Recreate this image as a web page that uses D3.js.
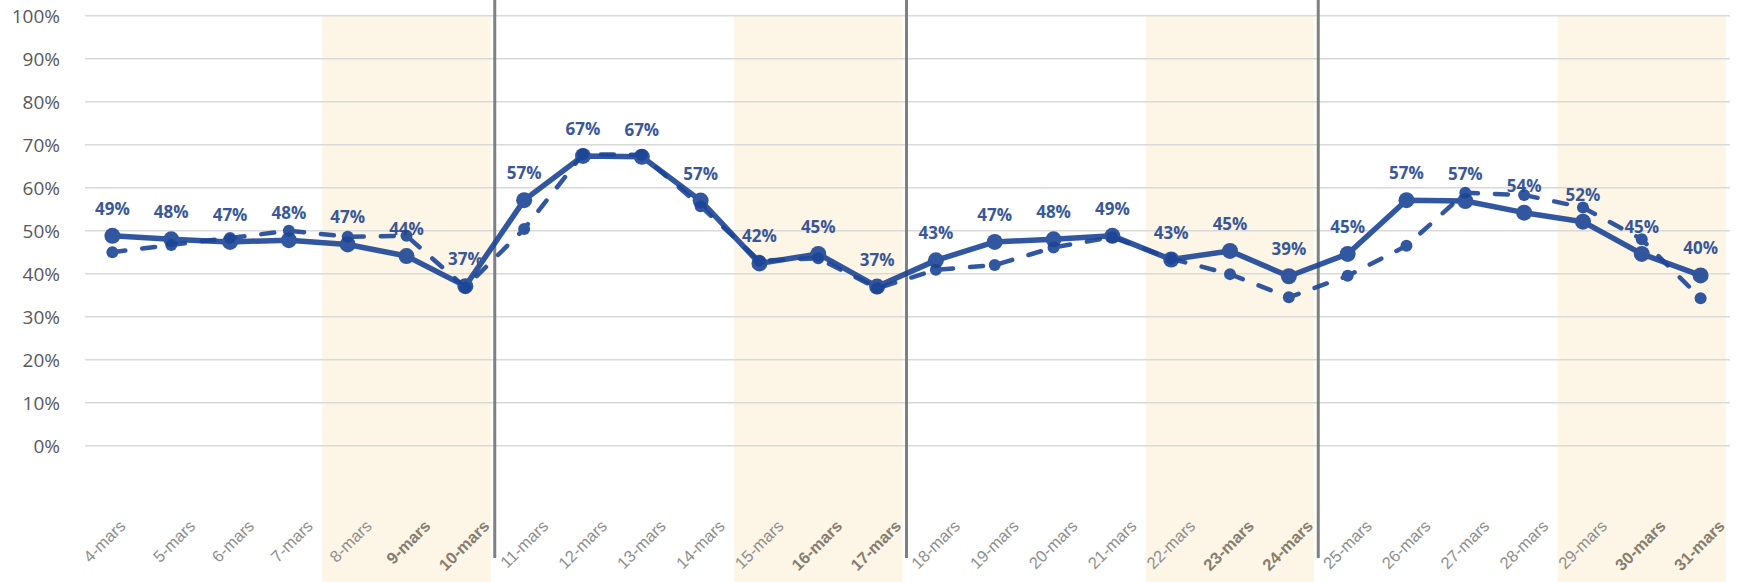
<!DOCTYPE html>
<html>
<head>
<meta charset="utf-8">
<script src="https://cdn.jsdelivr.net/npm/d3@7"></script>
<style>
  body { margin: 0; background: #fff; }
</style>
</head>
<body>
<div id="chart"></div>
<script>
const days = [
  "4-mars", "5-mars", "6-mars", "7-mars", "8-mars", "9-mars", "10-mars",
  "11-mars", "12-mars", "13-mars", "14-mars", "15-mars", "16-mars", "17-mars",
  "18-mars", "19-mars", "20-mars", "21-mars", "22-mars", "23-mars", "24-mars",
  "25-mars", "26-mars", "27-mars", "28-mars", "29-mars", "30-mars", "31-mars"
];
const solidSeries = [
  0.488, 0.480, 0.474, 0.478, 0.468, 0.441, 0.371,
  0.571, 0.674, 0.672, 0.570, 0.424, 0.446, 0.370,
  0.431, 0.474, 0.480, 0.488, 0.433, 0.453, 0.394,
  0.446, 0.571, 0.569, 0.542, 0.521, 0.446, 0.396
];
const dashedSeries = [
  0.450, 0.467, 0.483, 0.500, 0.486, 0.488, 0.368,
  0.504, 0.678, 0.676, 0.557, 0.430, 0.436, 0.366,
  0.409, 0.420, 0.461, 0.485, 0.435, 0.399, 0.345,
  0.395, 0.465, 0.588, 0.583, 0.554, 0.480, 0.343
];
const yTicks = [0, 0.1, 0.2, 0.3, 0.4, 0.5, 0.6, 0.7, 0.8, 0.9, 1];
// shaded 3-day blocks (first day of each)
const shadeStarts = ["8-mars", "15-mars", "22-mars", "29-mars"];
// week separators (drawn on the left edge of these days)
const weekBreaks = ["11-mars", "18-mars", "25-mars"];
const boldDays = ["9-mars", "10-mars", "16-mars", "17-mars", "23-mars", "24-mars", "30-mars", "31-mars"];

const width = 1738, height = 582;
const blue = "#1c4597";

const x = d3.scaleBand().domain(days).range([83, 1730]).padding(0);
const y = d3.scaleLinear().domain([0, 1]).range([445.7, 15.7]);
const bw = x.bandwidth();
const cx = (d) => x(d) + bw / 2;

const svg = d3.select("#chart").append("svg")
  .attr("width", width)
  .attr("height", height);

// weekend shading
svg.append("g")
  .selectAll("rect")
  .data(shadeStarts)
  .join("rect")
  .attr("x", (d) => x(d) + 4)
  .attr("y", y(1))
  .attr("width", 3 * bw - 8)
  .attr("height", height - y(1))
  .attr("fill", "#fdf6e6");

// gridlines
svg.append("g")
  .selectAll("line")
  .data(yTicks)
  .join("line")
  .attr("x1", 85)
  .attr("x2", 1730)
  .attr("y1", (d) => y(d))
  .attr("y2", (d) => y(d))
  .attr("stroke", "#d9d9d9")
  .attr("stroke-width", 1.5);

// y labels
svg.append("g")
  .selectAll("text")
  .data(yTicks)
  .join("text")
  .attr("x", 60)
  .attr("y", (d) => y(d))
  .attr("dy", "0.36em")
  .attr("text-anchor", "end")
  .attr("fill", "#595959")
  .style("font", "19px 'Open Sans', sans-serif")
  .text(d3.format(".0%"));

// week separators
svg.append("g")
  .selectAll("line")
  .data(weekBreaks)
  .join("line")
  .attr("x1", (d) => x(d))
  .attr("x2", (d) => x(d))
  .attr("y1", 0)
  .attr("y2", 558)
  .attr("stroke", "#808080")
  .attr("stroke-width", 3);

// x labels (first one nudged left like the original)
svg.append("g")
  .selectAll("text")
  .data(days)
  .join("text")
  .attr("transform", (d, i) => `translate(${cx(d) + (i === 0 ? 10 : 21)},523) rotate(-45)`)
  .attr("dy", "0.35em")
  .attr("text-anchor", "end")
  .attr("fill", (d) => (boldDays.includes(d) ? "#857e71" : "#8e8e8e"))
  .style("font-family", "'Liberation Sans', Arial, sans-serif")
  .style("font-size", "16.5px")
  .style("font-weight", (d) => (boldDays.includes(d) ? "bold" : "normal"))
  .text((d) => d);

const line = d3.line().x((d, i) => cx(days[i])).y((d) => y(d));

// dashed series
const gDash = svg.append("g").attr("opacity", 0.9);
gDash.append("path")
  .datum(dashedSeries)
  .attr("d", line)
  .attr("fill", "none")
  .attr("stroke", blue)
  .attr("stroke-width", 4.5)
  .attr("stroke-linecap", "round")
  .attr("stroke-dasharray", "13,17");
gDash.selectAll("circle")
  .data(dashedSeries)
  .join("circle")
  .attr("cx", (d, i) => cx(days[i]))
  .attr("cy", (d) => y(d))
  .attr("r", 6)
  .attr("fill", blue);

// solid series
const gSolid = svg.append("g").attr("opacity", 0.9);
gSolid.append("path")
  .datum(solidSeries)
  .attr("d", line)
  .attr("fill", "none")
  .attr("stroke", blue)
  .attr("stroke-width", 5.5)
  .attr("stroke-linejoin", "round");
gSolid.selectAll("circle")
  .data(solidSeries)
  .join("circle")
  .attr("cx", (d, i) => cx(days[i]))
  .attr("cy", (d) => y(d))
  .attr("r", 8)
  .attr("fill", blue);

// data labels
gSolid.append("g")
  .selectAll("text")
  .data(solidSeries)
  .join("text")
  .attr("x", (d, i) => cx(days[i]))
  .attr("y", (d) => y(d) - 21)
  .attr("text-anchor", "middle")
  .attr("fill", "#24468f")
  .style("font", "bold 17px 'Open Sans', sans-serif")
  .text(d3.format(".0%"));
</script>
</body>
</html>
